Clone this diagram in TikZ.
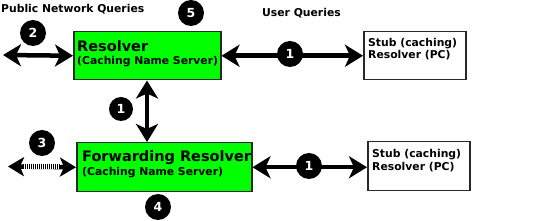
\documentclass[tikz,border=0pt]{standalone}
\usepackage{fontspec}
\setmainfont{DejaVu Sans}
\usetikzlibrary{arrows.meta}
\definecolor{boxgreen}{RGB}{0,255,0}
\definecolor{edge}{RGB}{40,40,40}
\tikzset{
  greenbox/.style={draw=edge, line width=1.5pt, fill=boxgreen, inner sep=0pt},
  stubbox/.style={draw=edge, line width=1.5pt, fill=white, inner sep=0pt},
  bigarrow/.style={line width=4.5pt, {Stealth[length=18pt,width=22pt,inset=5pt]}-{Stealth[length=18pt,width=22pt,inset=5pt]}},
  hatcharrow/.style={line width=4.5pt, {Stealth[length=16pt,width=19pt,inset=4pt]}-{Stealth[length=16pt,width=19pt,inset=4pt]}},
  badge/.style={circle, fill=black, minimum size=26pt, inner sep=0pt, text=white, font=\bfseries\fontsize{12.5}{12}\selectfont},
  lbl/.style={font=\bfseries\fontsize{10.8}{12}\selectfont, inner sep=0pt},
  big/.style={font=\bfseries\fontsize{14.5}{16}\selectfont, inner sep=0pt},
}
\begin{document}
\begin{tikzpicture}[x=1pt,y=-1pt]
\useasboundingbox (0,0) rectangle (552,221);
% boxes
\node[greenbox, minimum width=147pt, minimum height=48pt, anchor=north west] (res) at (73,31) {};
\node[greenbox, minimum width=175pt, minimum height=49pt, anchor=north west] (fwd) at (76,142) {};
\node[stubbox, minimum width=102pt, minimum height=48pt, anchor=north west] (stub1) at (363,31) {};
\node[stubbox, minimum width=102pt, minimum height=49pt, anchor=north west] (stub2) at (367,141) {};
% texts
\node[big, anchor=base west] (tres) at (77,52) {Resolver};
\node[lbl, anchor=base west] (tres2) at (77,65) {(Caching Name Server)};
\node[big, anchor=base west] (tfwd) at (82,162) {Forwarding Resolver};
\node[lbl, anchor=base west] (tfwd2) at (82,176) {(Caching Name Server)};
\node[lbl, anchor=base west] (ts1a) at (368,47) {Stub (caching)};
\node[lbl, anchor=base west] (ts1b) at (368,59) {Resolver (PC)};
\node[lbl, anchor=base west] (ts2a) at (372,158) {Stub (caching)};
\node[lbl, anchor=base west] (ts2b) at (372,171) {Resolver (PC)};
\node[lbl, anchor=base west] (pub) at (1,13) {Public Network Queries};
\node[lbl, anchor=base west] (usr) at (262,17) {User Queries};
% free ends
\coordinate (p2) at (3,55);
\coordinate (p3) at (8,166.5);
\coordinate (h1) at (23,166.5);
\coordinate (h2) at (60,166.5);
% arrows
\draw[bigarrow] (p2) -- (res.west);
\draw[bigarrow] (res.east) -- (res.east -| stub1.west);
\draw[bigarrow] (res.south -| 147,0) -- (fwd.north -| 147,0);
\draw[bigarrow] (fwd.east) -- (fwd.east -| stub2.west);
\draw[hatcharrow] (p3) -- (fwd.west);
\fill[white] ([yshift=-2.5pt]h1) rectangle ([yshift=2.5pt]h2);
\draw[line width=5pt, dash pattern=on 1pt off 1pt] (h1) -- (h2);
% badges
\node[badge] (b2) at (33,33) {2};
\node[badge] (b5) at (191,13) {5};
\node[badge] (b1a) at (290,54) {1};
\node[badge, minimum size=24pt] (b1b) at (121,109) {1};
\node[badge] (b3) at (42,143) {3};
\node[badge] (b4) at (158,207) {4};
\node[badge] (b1c) at (309,166) {1};
\end{tikzpicture}
\end{document}
